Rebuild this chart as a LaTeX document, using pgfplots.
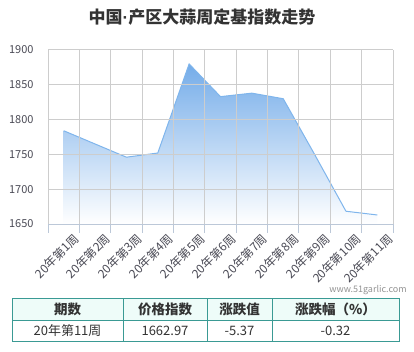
\documentclass[border=0pt]{standalone}
\usepackage{fontspec}
\setmainfont{Noto Sans CJK SC}
\newfontfamily\latinf{Liberation Sans}
\usepackage{pgfplots}
\pgfplotsset{compat=1.18}
\definecolor{linec}{HTML}{7FB5EC}
\definecolor{filltop}{HTML}{74ACE9}
\definecolor{titlec}{HTML}{333333}
\definecolor{tickc}{HTML}{4A4A55}
\definecolor{tabc}{HTML}{3A9A94}
\definecolor{headc}{HTML}{EEFCF9}
\definecolor{mygridline}{RGB}{205,205,205}
\definecolor{myaxisline}{RGB}{188,200,216}
\begin{document}
\begin{tikzpicture}
\path[use as bounding box] (0pt,0pt) rectangle (414pt,351pt);
\node[font=\fontsize{17}{20}\selectfont\bfseries, text=titlec] at (202pt,334pt) {中国{\latinf\bfseries·}产区大蒜周定基指数走势};
\begin{axis}[
  at={(48pt,127pt)}, anchor=south west,
  scale only axis, width=345pt, height=174pt,
  xmin=-0.5, xmax=10.5, ymin=1650, ymax=1900,
  ytick={1650,1700,...,1900},
  xtick={0,...,10},
  xticklabels={20年第1周,20年第2周,20年第3周,20年第4周,20年第5周,20年第6周,20年第7周,20年第8周,20年第9周,20年第10周,20年第11周},
  axis line style={draw=none},
  major tick length=0pt,
  tick style={draw=none},
  /pgf/number format/1000 sep={},
  yticklabel style={font=\fontsize{11}{12}\selectfont, text=tickc, xshift=-11pt},
  xticklabel style={font=\fontsize{12}{13}\selectfont, text=tickc, rotate=45, anchor=north east, yshift=-9pt, xshift=4pt},
  yticklabel={\pgfmathprintnumber[assume math mode=true]{\tick}},
  clip=false,
]
\addplot[draw=none, shade, top color=filltop, bottom color=white] coordinates {
  (0,1650) (0,1784) (1,1765) (2,1746) (3,1752) (4,1880) (5,1833) (6,1838) (7,1830) (8,1750) (9,1668.34) (10,1662.97) (10,1650)
};
\addplot[linec, line width=1pt] coordinates {
  (0,1784) (1,1765) (2,1746) (3,1752) (4,1880) (5,1833) (6,1838) (7,1830) (8,1750) (9,1668.34) (10,1662.97)
};
\end{axis}
% grid drawn over the axis area
\foreach \k in {0,...,11} {
  \draw[draw=mygridline, line width=1pt] ({48pt+\k*31.3636pt},127pt) -- ({48pt+\k*31.3636pt},301pt);
  \draw[draw=myaxisline, line width=1pt] ({48pt+\k*31.3636pt},127pt) -- ({48pt+\k*31.3636pt},118pt);
}
\foreach \k in {1,...,5} {
  \draw[draw=mygridline, line width=1pt] (48pt,{127pt+\k*34.8pt}) -- (393pt,{127pt+\k*34.8pt});
}
\draw[draw=myaxisline, line width=1pt] (48pt,127pt) -- (393pt,127pt);
\node[font=\fontsize{9}{10}\selectfont, text=gray!85] at (368pt,61pt) {www.51garlic.com};
% table
\fill[headc] (12pt,31pt) rectangle (399pt,53pt);
\draw[tabc, line width=1pt] (12pt,10pt) rectangle (399pt,53pt);
\draw[tabc, line width=1pt] (12pt,31pt) -- (399pt,31pt);
\foreach \x in {123,207,272} \draw[tabc, line width=1pt] (\x pt,10pt) -- (\x pt,53pt);
\begin{scope}[every node/.style={font=\fontsize{13}{15}\selectfont, text=titlec}]
\node[font=\fontsize{13.5}{15}\selectfont\bfseries] at (67.5pt,42pt) {期数};
\node[font=\fontsize{13.5}{15}\selectfont\bfseries] at (165pt,42pt) {价格指数};
\node[font=\fontsize{13.5}{15}\selectfont\bfseries] at (239.5pt,42pt) {涨跌值};
\node[font=\fontsize{13.5}{15}\selectfont\bfseries] at (335.5pt,42pt) {涨跌幅（\%）};
\node at (67.5pt,20.5pt) {20年第11周};
\node at (165pt,20.5pt) {1662.97};
\node at (239.5pt,20.5pt) {-5.37};
\node at (335.5pt,20.5pt) {-0.32};
\end{scope}
\end{tikzpicture}
\end{document}
